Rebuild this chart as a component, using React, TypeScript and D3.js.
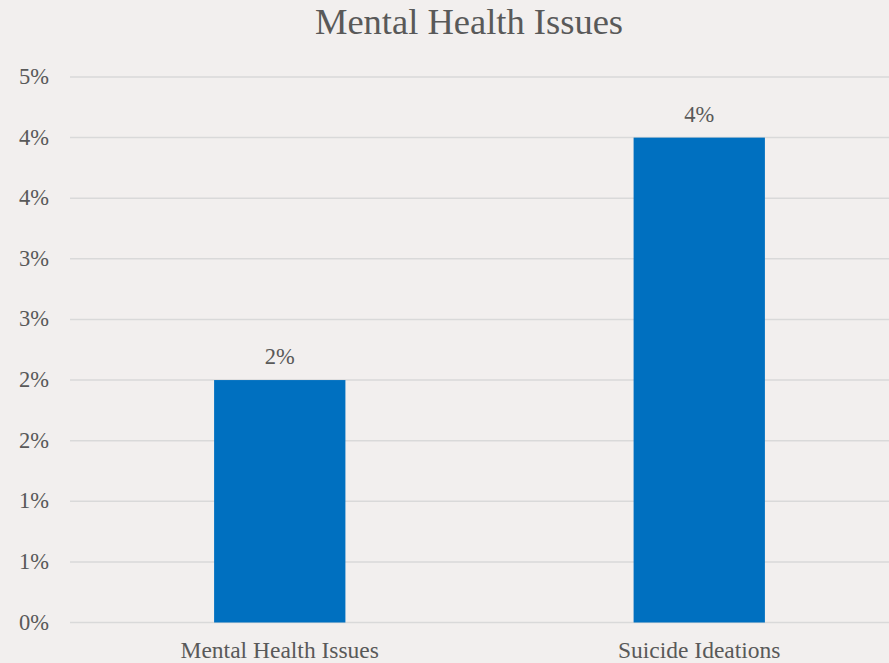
import React from "react";
import * as d3 from "d3";

const categories = ["Mental Health Issues", "Suicide Ideations"];
const values = [2.0, 4.0];
const valueLabels = ["2%", "4%"];
const tickValues = [0, 0.5, 1, 1.5, 2, 2.5, 3, 3.5, 4, 4.5];
const tickLabels = ["0%", "1%", "1%", "2%", "2%", "3%", "3%", "4%", "4%", "5%"];
const title = "Mental Health Issues";

const W = 889;
const H = 663;
const FONT = "'Liberation Serif', 'DejaVu Serif', serif";
const TEXT = "#595959";

export default function App() {
  const x = d3.scaleBand<string>().domain(categories).range([70, 909]).padding(0);
  const y = d3.scaleLinear().domain([0, 4.5]).range([622.5, 77]);
  const barW = x.step() * 0.313;
  return (
    <svg width={W} height={H} style={{ position: "absolute", left: 0, top: 0, display: "block" }}>
      <rect x={0} y={0} width={W} height={H} fill="#f2efee" />
      <text x={469} y={34} textAnchor="middle" fontFamily={FONT} fontSize={36.5} fill={TEXT}>
        {title}
      </text>
      {tickValues.map((t, i) => (
        <g key={i}>
          <line x1={70} x2={W} y1={y(t)} y2={y(t)} stroke="#d9d9d9" strokeWidth={1.5} />
          <text x={49} y={y(t) + 7} textAnchor="end" fontFamily={FONT} fontSize={22.5} fill={TEXT}>
            {tickLabels[i]}
          </text>
        </g>
      ))}
      {categories.map((c, i) => {
        const cx = (x(c) as number) + x.bandwidth() / 2;
        return (
          <g key={c}>
            <rect x={cx - barW / 2} y={y(values[i])} width={barW} height={y(0) - y(values[i])} fill="#0070c0" />
            <text x={cx} y={y(values[i]) - 16} textAnchor="middle" fontFamily={FONT} fontSize={22.5} fill={TEXT}>
              {valueLabels[i]}
            </text>
            <text x={cx} y={658} textAnchor="middle" fontFamily={FONT} fontSize={23.5} fill={TEXT}>
              {c}
            </text>
          </g>
        );
      })}
    </svg>
  );
}
